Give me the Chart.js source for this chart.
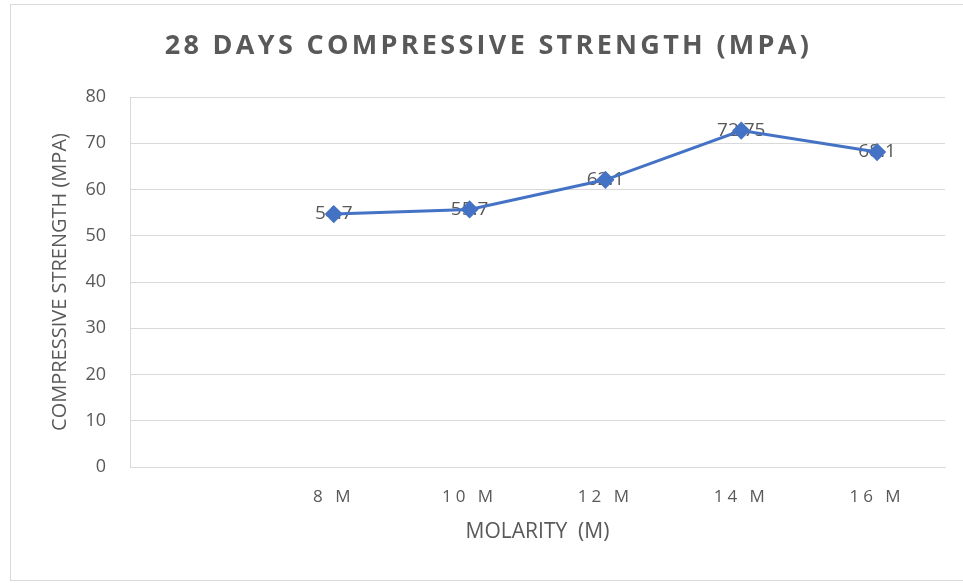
<!DOCTYPE html>
<html>
<head>
<meta charset="utf-8">
<script src="https://cdn.jsdelivr.net/npm/chart.js@4.4.1/dist/chart.umd.min.js"></script>
<style>
  body { margin: 0; background: #fff; overflow: hidden; }
  #frame { position: absolute; left: 10px; top: 4px; width: 1000px; height: 575px; border: 1px solid #d9d9d9; }
  #chart { position: absolute; left: 0; top: 0; }
</style>
</head>
<body>
<div id="frame"></div>
<canvas id="chart" width="963" height="583"></canvas>
<script>

var molarity = ['', '8 M', '10 M', '12 M', '14 M', '16 M'];
var strength = [null, 54.7, 55.7, 62.1, 72.75, 68.1];
var yTicks = [0, 10, 20, 30, 40, 50, 60, 70, 80];

var grey = '#595959';
var blue = '#4472C4';

// spatiere intre litere pentru titlu si etichetele axei x
function spaced(obj, name, sp, dx){
	if (!obj || obj['_sp_' + name]) return;
	var orig = obj[name];
	obj[name] = function(){
		var c = this.ctx;
		c.save();
		c.letterSpacing = sp;
		c.translate(dx, 0);
		orig.apply(this, arguments);
		c.restore();
	};
	obj['_sp_' + name] = true;
}

var letterSpacing = {
	id: 'letterSpacing',
	beforeDraw: function(chart){
		spaced(chart.titleBlock, 'draw', '3.3px', -8);
		spaced(chart.scales.x, 'drawLabels', '4px', 0);
	}
};

// etichete de valori, desenate sub markere
var valueLabels = {
	id: 'valueLabels',
	beforeDatasetsDraw: function(chart){
		var ctx = chart.ctx;
		var meta = chart.getDatasetMeta(0);
		ctx.save();
		ctx.font = '19px "Open Sans"';
		ctx.fillStyle = grey;
		ctx.textAlign = 'center';
		ctx.textBaseline = 'middle';
		meta.data.forEach(function(pt, i){
			var v = strength[i];
			if (v === null) return;
			ctx.fillText(String(v), pt.x, pt.y);
		});
		ctx.restore();
	}
};

var chart_settings = {
	type: 'line',
	data: {
		labels: molarity,
		datasets: [{
			data: strength,
			borderColor: blue,
			backgroundColor: blue,
			borderWidth: 3,
			pointStyle: 'rectRot',
			pointRadius: 7,
			pointHoverRadius: 7,
			pointBackgroundColor: blue,
			pointBorderColor: blue,
			tension: 0
		}]
	},
	options: {
		responsive: false,
		animation: false,
		layout: { padding: { left: 48, right: 18, top: 0, bottom: 38 } },
		plugins: {
			legend: { display: false },
			tooltip: { enabled: false },
			title: {
				display: true,
				text: '28 DAYS COMPRESSIVE STRENGTH (MPA)',
				color: grey,
				font: { family: '"Open Sans"', size: 27, weight: 'bold' },
				padding: { top: 30, bottom: 34.6 }
			}
		},
		scales: {
			x: {
				offset: true,
				grid: { display: false, drawTicks: false },
				border: { display: true, color: '#d9d9d9', width: 1 },
				ticks: { color: grey, font: { family: '"Open Sans"', size: 17 }, padding: 20, maxRotation: 0 },
				title: { display: true, text: 'MOLARITY  (M)', color: grey, font: { family: '"Open Sans"', size: 21 }, padding: 0 },
				afterFit: function(scale){ scale.height = 78; }
			},
			y: {
				min: 0,
				max: 80,
				afterBuildTicks: function(scale){ scale.ticks = yTicks.map(function(v){ return { value: v }; }); },
				grid: { color: '#d9d9d9', drawTicks: false },
				border: { display: true, color: '#d9d9d9' },
				ticks: { color: grey, font: { family: '"Open Sans"', size: 18 }, padding: 24 },
				title: { display: true, text: 'COMPRESSIVE STRENGTH (MPA)', color: grey, font: { family: '"Open Sans"', size: 20 }, padding: 0 },
				afterFit: function(scale){ scale.width = 82; }
			}
		}
	},
	plugins: [letterSpacing, valueLabels]
};

var chart_line = new Chart(document.getElementById('chart'), chart_settings);

</script>
</body>
</html>
